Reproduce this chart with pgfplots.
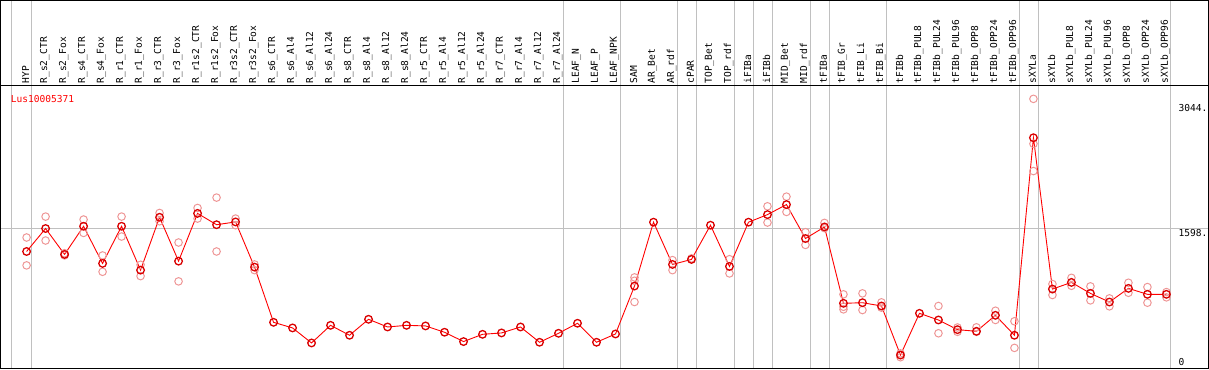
\documentclass[border=0pt]{standalone}
\usepackage{fontspec}
\usepackage{pgfplots}
\pgfplotsset{compat=1.18}
\newfontfamily\monofont{DejaVu Sans Mono}
\definecolor{gridgray}{RGB}{192,192,192}
\definecolor{reppink}{RGB}{238,150,150}
\begin{document}
\begin{tikzpicture}
\begin{axis}[
  scale only axis, width=1207bp, height=368bp,
  xmin=-0.368, xmax=63.21, ymin=-28.9, ymax=4234.6,
  axis line style={black, line width=1.2pt},
  xtick={0.21,1.26,29.26,32.26,35.26,36.26,38.26,39.26,40.26,42.26,43.26,46.26,53.24,54.24,61.22},
  xticklabels={},
  ytick={1598}, yticklabels={},
  extra y ticks={3252}, extra y tick labels={},
  extra y tick style={grid=major, major grid style={black, line width=1.2pt}},
  tick label style={overlay},
  every extra y tick/.append style={overlay},
  major tick length=0pt,
  xmajorgrids, ymajorgrids,
  major grid style={gridgray, line width=1pt},
  clip=false,
]
% replicates
\addplot[only marks, mark=o, mark size=3.8pt, reppink, mark options={line width=1pt}] coordinates {
(1,1492)(1,1169)(2,1734)(2,1457)(3,1310)(3,1285)(4,1700)(4,1545)(5,1284)(5,1095)
(6,1734)(6,1503)(7,1176)(7,1045)(8,1776)(8,1680)(9,1434)(9,984)(10,1834)(10,1711)
(11,1954)(11,1330)(12,1711)(12,1634)(13,1180)(13,1114)
(33,1030)(33,991)(33,745)(35,1230)(35,1114)(36,1250)(38,1241)(38,1076)
(40,1853)(40,1665)(41,1965)(41,1788)(42,1553)(42,1406)(43,1661)(43,1600)
(44,834)(44,660)(44,690)(45,845)(45,652)(46,741)(46,680)(47,150)(47,106)
(49,699)(49,383)(50,450)(50,400)(51,452)(51,400)(52,644)(52,537)(53,522)(53,214)
(54,3097)(54,2577)(54,2261)(55,953)(55,826)(56,1025)(56,933)(57,926)(57,764)
(58,787)(58,695)(59,968)(59,852)(60,918)(60,737)(61,860)(61,799)
};
% means
\addplot[red, line width=0.9pt, mark=o, mark size=3.8pt, mark options={line width=1.3pt, red!85!black}] coordinates {
(1,1330)(2,1596)(3,1296)(4,1622)(5,1192)(6,1622)(7,1114)(8,1726)(9,1218)(10,1771)
(11,1640)(12,1672)(13,1149)(14,510)(15,445)(16,271)(17,475)(18,360)(19,545)(20,456)
(21,475)(22,468)(23,395)(24,287)(25,371)(26,387)(27,456)(28,279)(29,383)(30,499)
(31,279)(32,375)(33,930)(34,1669)(35,1180)(36,1238)(37,1634)(38,1157)(39,1669)(40,1757)
(41,1873)(42,1480)(43,1614)(44,730)(45,737)(46,699)(47,131)(48,614)(49,537)(50,425)
(51,406)(52,591)(53,360)(54,2647)(55,895)(56,972)(57,845)(58,745)(59,903)(60,834)
(61,834)
};
\tikzset{lab/.style={rotate=90, anchor=west, inner sep=0pt, font=\monofont\fontsize{9.6}{10}\selectfont}}
\node[lab] at (axis cs:0.95,3275) {HYP};
\node[lab] at (axis cs:1.95,3275) {R\_s2\_CTR};
\node[lab] at (axis cs:2.95,3275) {R\_s2\_Fox};
\node[lab] at (axis cs:3.95,3275) {R\_s4\_CTR};
\node[lab] at (axis cs:4.95,3275) {R\_s4\_Fox};
\node[lab] at (axis cs:5.95,3275) {R\_r1\_CTR};
\node[lab] at (axis cs:6.95,3275) {R\_r1\_Fox};
\node[lab] at (axis cs:7.95,3275) {R\_r3\_CTR};
\node[lab] at (axis cs:8.95,3275) {R\_r3\_Fox};
\node[lab] at (axis cs:9.95,3275) {R\_r1s2\_CTR};
\node[lab] at (axis cs:10.95,3275) {R\_r1s2\_Fox};
\node[lab] at (axis cs:11.95,3275) {R\_r3s2\_CTR};
\node[lab] at (axis cs:12.95,3275) {R\_r3s2\_Fox};
\node[lab] at (axis cs:13.95,3275) {R\_s6\_CTR};
\node[lab] at (axis cs:14.95,3275) {R\_s6\_Al4};
\node[lab] at (axis cs:15.95,3275) {R\_s6\_Al12};
\node[lab] at (axis cs:16.95,3275) {R\_s6\_Al24};
\node[lab] at (axis cs:17.95,3275) {R\_s8\_CTR};
\node[lab] at (axis cs:18.95,3275) {R\_s8\_Al4};
\node[lab] at (axis cs:19.95,3275) {R\_s8\_Al12};
\node[lab] at (axis cs:20.95,3275) {R\_s8\_Al24};
\node[lab] at (axis cs:21.95,3275) {R\_r5\_CTR};
\node[lab] at (axis cs:22.95,3275) {R\_r5\_Al4};
\node[lab] at (axis cs:23.95,3275) {R\_r5\_Al12};
\node[lab] at (axis cs:24.95,3275) {R\_r5\_Al24};
\node[lab] at (axis cs:25.95,3275) {R\_r7\_CTR};
\node[lab] at (axis cs:26.95,3275) {R\_r7\_Al4};
\node[lab] at (axis cs:27.95,3275) {R\_r7\_Al12};
\node[lab] at (axis cs:28.95,3275) {R\_r7\_Al24};
\node[lab] at (axis cs:29.95,3275) {LEAF\_N};
\node[lab] at (axis cs:30.95,3275) {LEAF\_P};
\node[lab] at (axis cs:31.95,3275) {LEAF\_NPK};
\node[lab] at (axis cs:32.95,3275) {SAM};
\node[lab] at (axis cs:33.95,3275) {AR\_Bet};
\node[lab] at (axis cs:34.95,3275) {AR\_rdf};
\node[lab] at (axis cs:35.95,3275) {cPAR};
\node[lab] at (axis cs:36.95,3275) {TOP\_Bet};
\node[lab] at (axis cs:37.95,3275) {TOP\_rdf};
\node[lab] at (axis cs:38.95,3275) {iFIBa};
\node[lab] at (axis cs:39.95,3275) {iFIBb};
\node[lab] at (axis cs:40.95,3275) {MID\_Bet};
\node[lab] at (axis cs:41.95,3275) {MID\_rdf};
\node[lab] at (axis cs:42.95,3275) {tFIBa};
\node[lab] at (axis cs:43.95,3275) {tFIB\_Gr};
\node[lab] at (axis cs:44.95,3275) {tFIB\_Li};
\node[lab] at (axis cs:45.95,3275) {tFIB\_Bi};
\node[lab] at (axis cs:46.95,3275) {tFIBb};
\node[lab] at (axis cs:47.95,3275) {tFIBb\_PUL8};
\node[lab] at (axis cs:48.95,3275) {tFIBb\_PUL24};
\node[lab] at (axis cs:49.95,3275) {tFIBb\_PUL96};
\node[lab] at (axis cs:50.95,3275) {tFIBb\_OPP8};
\node[lab] at (axis cs:51.95,3275) {tFIBb\_OPP24};
\node[lab] at (axis cs:52.95,3275) {tFIBb\_OPP96};
\node[lab] at (axis cs:53.95,3275) {sXYLa};
\node[lab] at (axis cs:54.95,3275) {sXYLb};
\node[lab] at (axis cs:55.95,3275) {sXYLb\_PUL8};
\node[lab] at (axis cs:56.95,3275) {sXYLb\_PUL24};
\node[lab] at (axis cs:57.95,3275) {sXYLb\_PUL96};
\node[lab] at (axis cs:58.95,3275) {sXYLb\_OPP8};
\node[lab] at (axis cs:59.95,3275) {sXYLb\_OPP24};
\node[lab] at (axis cs:60.95,3275) {sXYLb\_OPP96};
\tikzset{rl/.style={inner sep=0pt, font=\monofont\fontsize{9.6}{10}\selectfont}}
\node[rl, anchor=base west, red] at (axis cs:0.16,3054) {Lus10005371};
\node[rl, anchor=north west] at (axis cs:61.63,3030) {3044.};
\node[rl, anchor=north west] at (axis cs:61.63,1584) {1598.};
\node[rl, anchor=base west] at (axis cs:61.63,8) {0};
\end{axis}
\end{tikzpicture}
\end{document}
